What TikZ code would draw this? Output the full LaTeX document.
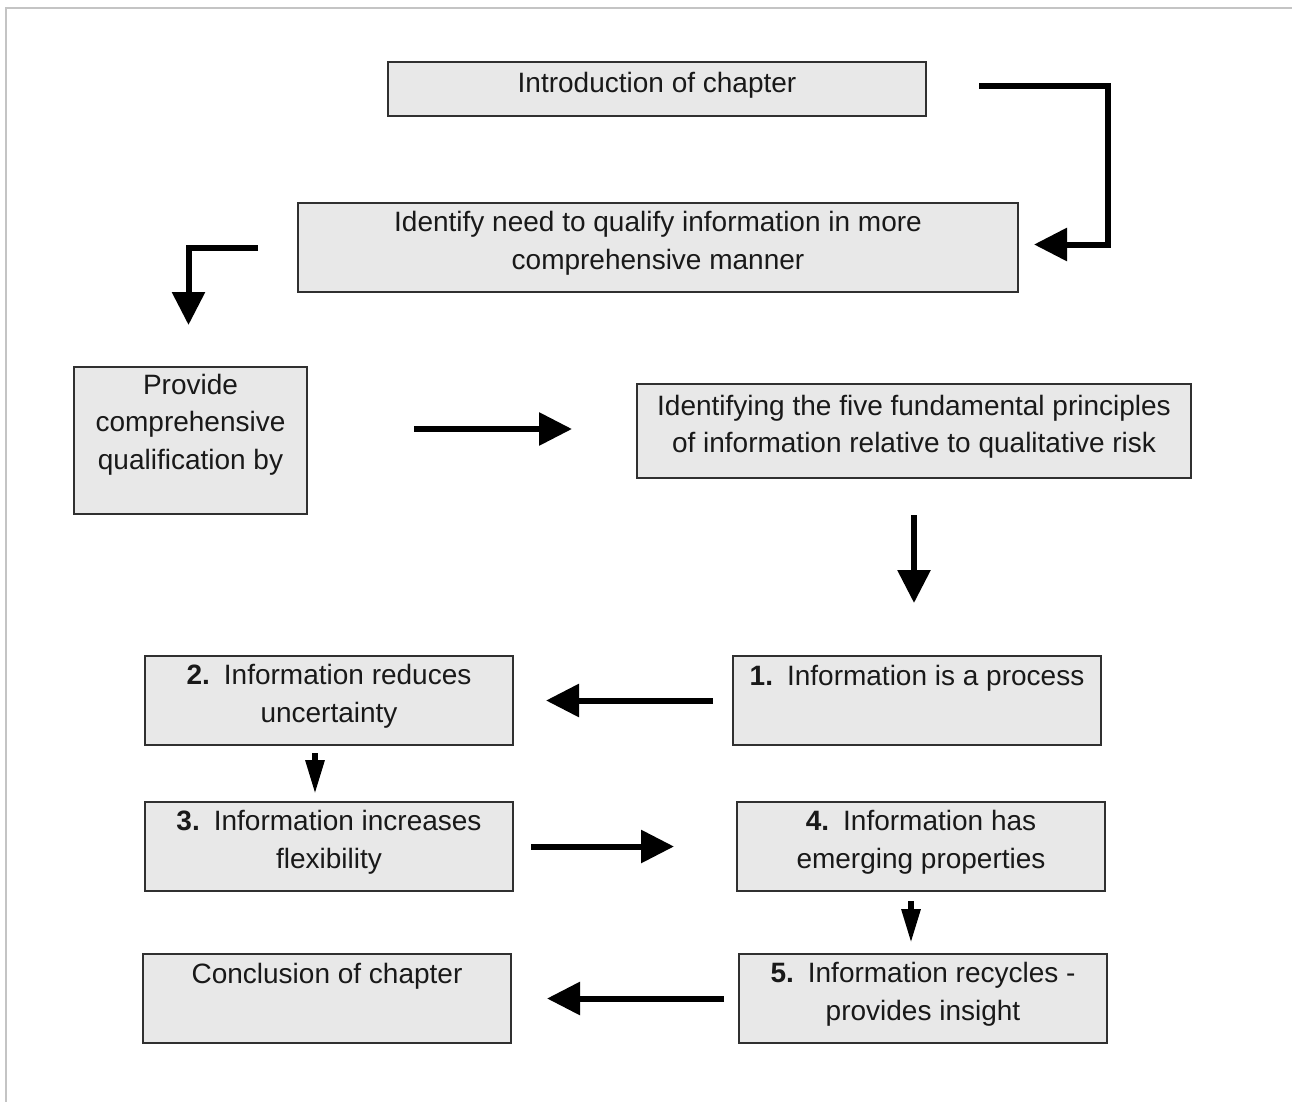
\documentclass[tikz,border=0pt]{standalone}
\usepackage{fontspec}
\setmainfont{Liberation Sans}
\usetikzlibrary{arrows.meta, positioning}
\definecolor{boxfill}{HTML}{E8E8E8}
\definecolor{boxline}{HTML}{303030}
\definecolor{frameline}{HTML}{C4C4C4}

\begin{document}
\begin{tikzpicture}[
  x=1pt, y=-1pt,
  font=\fontsize{28pt}{37.5pt}\selectfont,
  box/.style={draw=boxline, fill=boxfill, line width=2pt,
              minimum width=368pt, minimum height=89pt,
              inner sep=2pt, align=center, text=black!90,
              text depth=14pt},
  arr/.style={-{Triangle[length=33pt, width=32pt]}, line width=6pt},
  sarr/.style={-{Triangle[length=34pt, width=18pt]}, line width=6pt},
]
\useasboundingbox[fill=white] (0,0) rectangle (1292,1102);
\draw[frameline, line width=2pt] (6,1102) -- (6,8) -- (1292,8);

\node[box, minimum width=538pt, minimum height=54pt] (intro) at (657,89)
  {Introduction of chapter};
\node[box, minimum width=720pt] (need) at (658,247.5)
  {Identify need to qualify information in more\\comprehensive manner};
\node[box, minimum width=233pt, minimum height=147pt, text depth=0pt] (provide) at (190.5,440.5)
  {Provide\\comprehensive\\qualification by\\\mbox{}};
\node[box, minimum width=554pt, minimum height=94pt] (five) at (914,431)
  {Identifying the five fundamental principles\\of information relative to qualitative risk};

\node[box, text depth=12pt] (p1) at (917,700.5) {\textbf{1.}\enspace Information is a process\\\mbox{}};
\node[box, left=218pt of p1]  (p2) {\textbf{2.}\enspace Information reduces\\uncertainty};
\node[box, below=55pt of p2]  (p3) {\textbf{3.}\enspace Information increases\\flexibility};
\node[box, right=222pt of p3] (p4) {\textbf{4.}\enspace Information has\\emerging properties};
\node[box, below=61pt of p4, xshift=2pt] (p5) {\textbf{5.}\enspace Information recycles -\\provides insight};
\node[box, left=226pt of p5, text depth=12pt] (concl) {Conclusion of chapter\\\mbox{}};

% flow
\draw[arr, shorten <=52pt, shorten >=15pt]
  ([yshift=3pt]intro.east) -- ++(181,0) |- ([yshift=3pt]need.east);
\draw[arr, shorten <=39pt, shorten >=41pt] (need.west) -| ([xshift=-2pt]provide.north);
\draw[arr, shorten <=106pt, shorten >=64pt]
  ([yshift=2pt]provide.east |- five.west) -- ([yshift=2pt]five.west);
\draw[arr, shorten <=36pt, shorten >=52pt] (five.south) -- (five.south |- p1.north);
\draw[arr, shorten <=19pt, shorten >=32pt] (p1.west) -- (p2.east);
\draw[sarr, shorten <=7pt, shorten >=7pt] ([xshift=-14pt]p2.south) -- ([xshift=-14pt]p3.north);
\draw[arr, shorten <=17pt, shorten >=62pt] (p3.east) -- (p4.west);
\draw[sarr, shorten <=9pt, shorten >=10pt]
  ([xshift=-10pt]p4.south) -- ([xshift=-10pt]p4.south |- p5.north);
\draw[arr, shorten <=14pt, shorten >=35pt] (p5.west) -- (concl.east);
\end{tikzpicture}
\end{document}
